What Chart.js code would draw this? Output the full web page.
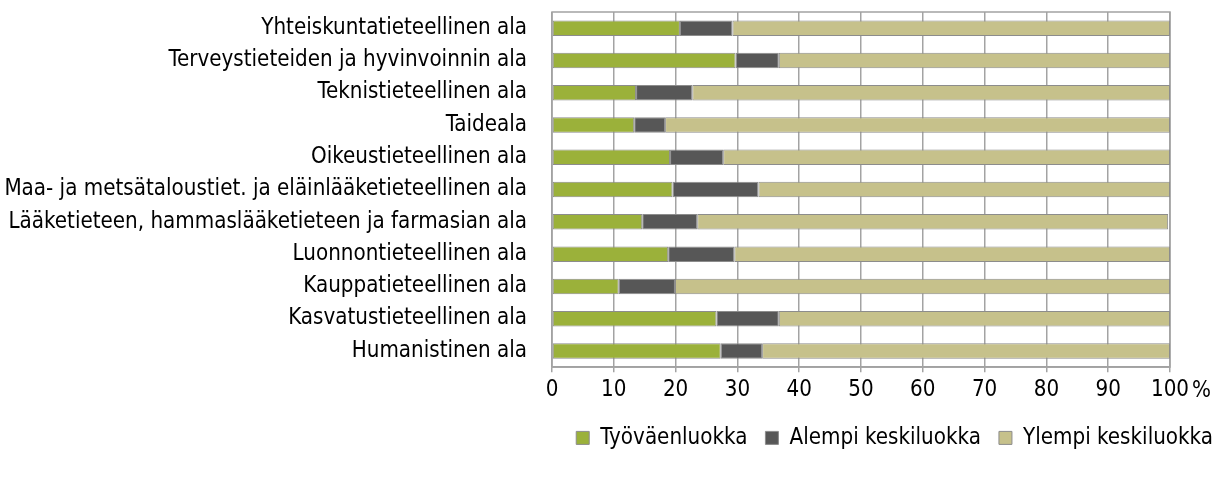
<!DOCTYPE html>
<html>
<head>
<meta charset="utf-8">
<script src="https://cdn.jsdelivr.net/npm/chart.js@4"></script>
<style>
  html, body { margin: 0; padding: 0; background: #fff; }
  #wrap { width: 1231px; height: 477px; }
</style>
</head>
<body>
<div id="wrap"><canvas id="chart"></canvas></div>
<script>
// Data
const categories = [
  'Yhteiskuntatieteellinen ala',
  'Terveystieteiden ja hyvinvoinnin ala',
  'Teknistieteellinen ala',
  'Taideala',
  'Oikeustieteellinen ala',
  'Maa- ja metsätaloustiet. ja eläinlääketieteellinen ala',
  'Lääketieteen, hammaslääketieteen ja farmasian ala',
  'Luonnontieteellinen ala',
  'Kauppatieteellinen ala',
  'Kasvatustieteellinen ala',
  'Humanistinen ala',
]
const tyovaenluokka = [20.7, 29.7, 13.6, 13.3, 19.1, 19.5, 14.6, 18.8, 10.8, 26.6, 27.3]
const alempiKeskiluokka = [8.5, 7.0, 9.1, 5.0, 8.6, 13.9, 8.9, 10.7, 9.1, 10.1, 6.7]
const ylempiKeskiluokka = [70.8, 63.3, 77.3, 81.7, 72.3, 66.6, 76.2, 70.5, 80.1, 63.3, 66.0]
const xTicks = [0, 10, 20, 30, 40, 50, 60, 70, 80, 90, 100]

const FONT = "'DejaVu Sans Condensed', sans-serif"
const FONT_SIZE = 22.2
const GRID = '#a3a3a3'

// Plot frame + "%" after the last tick
const framePlugin = {
  id: 'frame',
  beforeDatasetsDraw(chart) {
    const { ctx, chartArea } = chart
    ctx.save()
    ctx.strokeStyle = GRID
    ctx.lineWidth = 1.5
    ctx.strokeRect(chartArea.left, chartArea.top, chartArea.right - chartArea.left, chartArea.bottom - chartArea.top)
    ctx.restore()
  },
  afterDraw(chart) {
    const { ctx, scales } = chart
    const x = scales.x.getPixelForValue(100)
    ctx.save()
    ctx.font = `${FONT_SIZE}px ${FONT}`
    ctx.fillStyle = '#000'
    ctx.textBaseline = 'middle'
    ctx.fillText('%', x + 22, scales.x.top + 24)
    ctx.restore()
  },
}

const dataset = (label, data, color) => ({
  label,
  data,
  backgroundColor: color,
  borderColor: '#8c8c8c',
  borderWidth: 1,
  borderSkipped: false,
  barPercentage: 0.48,
  categoryPercentage: 1,
})

new Chart(document.getElementById('chart'), {
  type: 'bar',
  data: {
    labels: categories,
    datasets: [
      dataset('Työväenluokka', tyovaenluokka, '#9bb13a'),
      dataset('Alempi keskiluokka', alempiKeskiluokka, '#575757'),
      dataset('Ylempi keskiluokka', ylempiKeskiluokka, '#c6c18b'),
    ],
  },
  options: {
    indexAxis: 'y',
    responsive: true,
    maintainAspectRatio: false,
    animation: false,
    layout: { padding: { top: 12, right: 0, bottom: 18, left: 0 } },
    scales: {
      x: {
        stacked: true,
        min: 0,
        max: 100,
        afterBuildTicks(scale) {
          scale.ticks = xTicks.map((v) => ({ value: v }))
        },
        afterFit(scale) {
          scale.paddingLeft = 0
          scale.paddingRight = 61
        },
        grid: { color: GRID, lineWidth: 1.5, tickLength: 5 },
        border: { color: GRID, width: 1.5 },
        ticks: { color: '#000', font: { family: FONT, size: FONT_SIZE }, padding: 5, maxRotation: 0 },
      },
      y: {
        stacked: true,
        afterFit(scale) {
          scale.width = 552
          scale.paddingTop = 0
          scale.paddingBottom = 0
        },
        grid: { display: false },
        border: { display: false },
        ticks: { color: '#000', font: { family: FONT, size: FONT_SIZE }, padding: 17 },
      },
    },
    plugins: {
      tooltip: { enabled: false },
      legend: {
        position: 'bottom',
        align: 'end',
        labels: {
          color: '#000',
          font: { family: FONT, size: FONT_SIZE },
          boxWidth: 13,
          boxHeight: 13,
          padding: 18,
        },
      },
    },
  },
  plugins: [framePlugin],
})
</script>
</body>
</html>
